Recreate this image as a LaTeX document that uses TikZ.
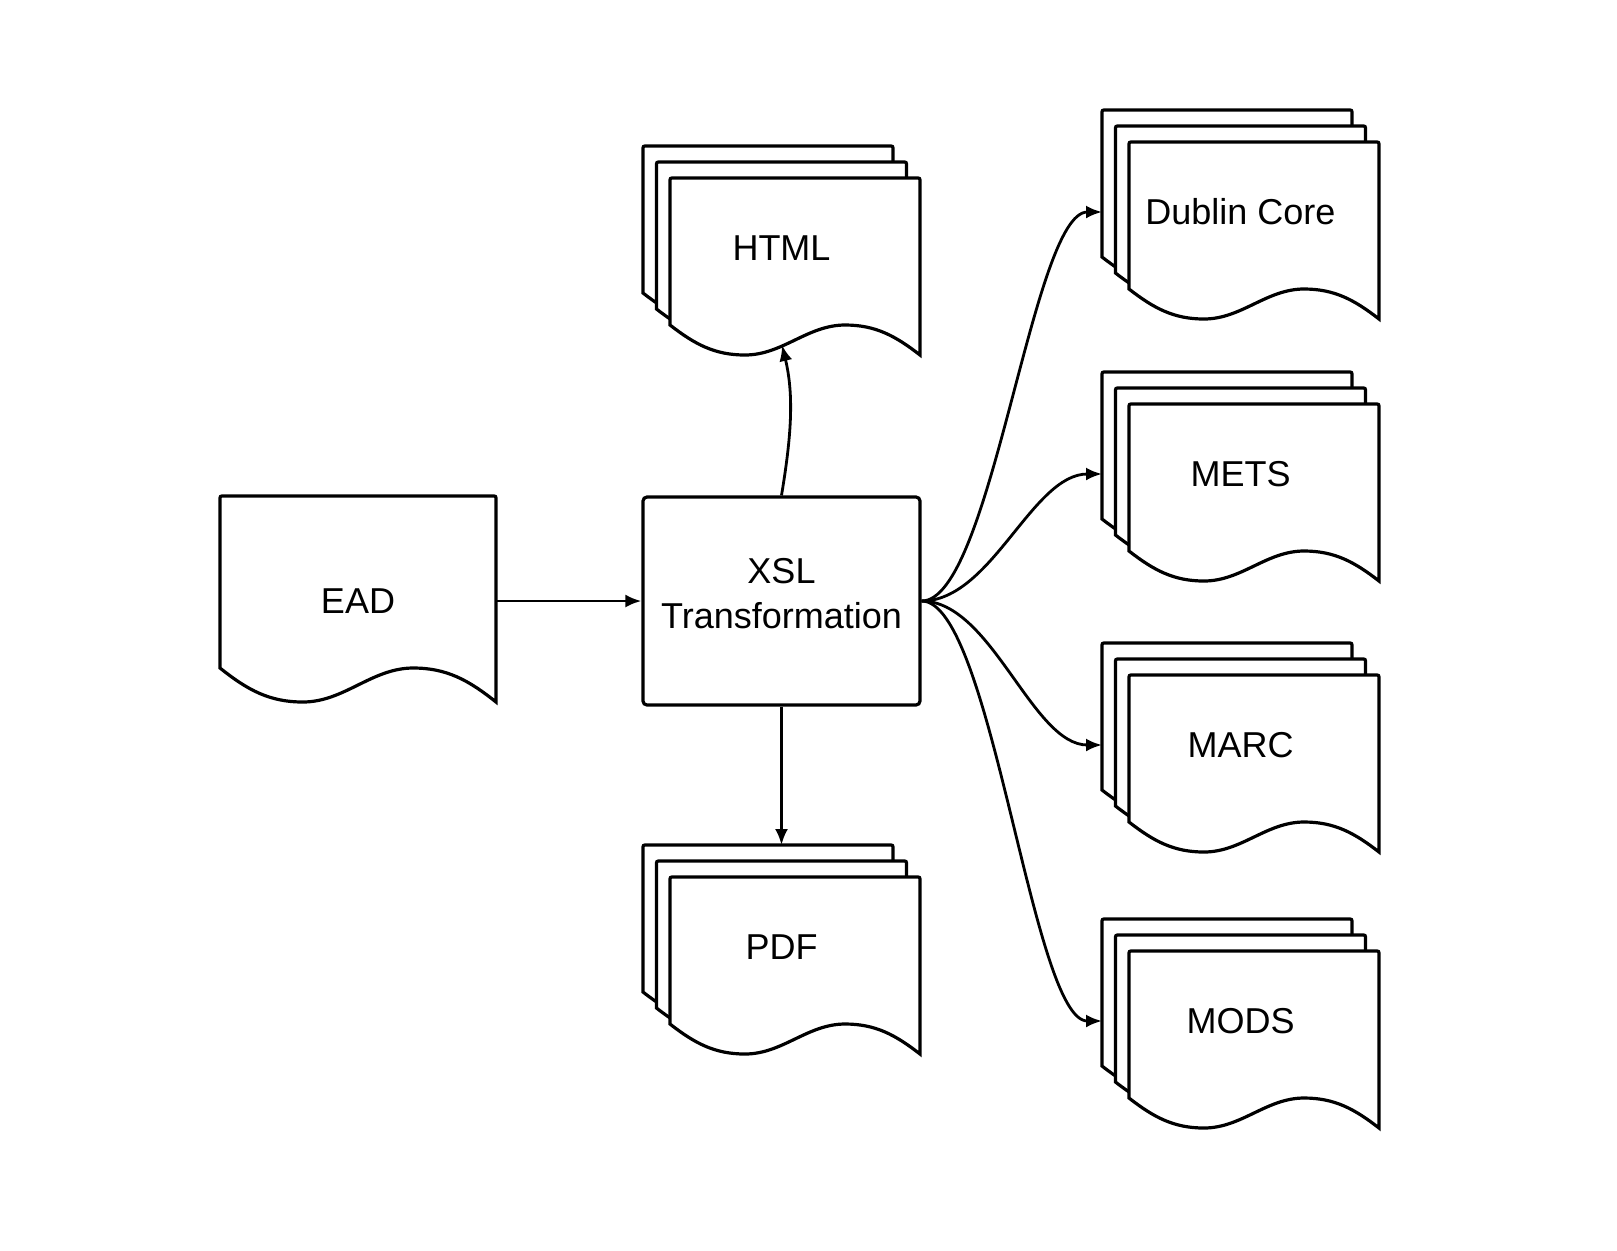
\documentclass[tikz,border=0pt]{standalone}
\usepackage{fontspec}
\setmainfont{Liberation Sans}
\usetikzlibrary{arrows.meta}

% one page: left, top, width, height of left side, depth of wave
\newcommand{\docsheet}[5]{%
  \draw[sheet] (#1,#2+#4) -- (#1,#2+4) .. controls (#1,#2) .. (#1+4,#2)
    -- (#1+#3-4,#2) .. controls (#1+#3,#2) .. (#1+#3,#2+4)
    -- (#1+#3,#2+#4+#5)
    .. controls (#1+0.9*#3,#2+#4+0.35*#5) and (#1+0.82*#3,#2+#4) .. (#1+0.7*#3,#2+#4)
    .. controls (#1+0.55*#3,#2+#4) and (#1+0.45*#3,#2+#4+#5) .. (#1+0.3*#3,#2+#4+#5)
    .. controls (#1+0.18*#3,#2+#4+#5) and (#1+0.1*#3,#2+#4+0.65*#5) .. (#1,#2+#4) -- cycle;}

% three pages on top of each other, label node #1
\newcommand{\docstack}[4]{%
  \docsheet{#2}{#3}{250}{147}{30}
  \docsheet{#2+13.5}{#3+16}{250}{147}{30}
  \docsheet{#2+27}{#3+32}{250}{147}{30}
  \node[doctext] (#1) at (#2+138.5,#3+102) {#4};
  \coordinate (#1-top) at (#2+138.5,#3);
  \coordinate (#1-in) at (#2+139,#3+199);}

\begin{document}
\begin{tikzpicture}[x=0.5pt, y=-0.5pt,
    sheet/.style={line width=1.6pt, fill=white},
    arr/.style={line width=1.4pt, -{Latex[length=8pt,width=6.5pt]}},
    doctext/.style={font=\fontsize{18}{21}\selectfont, minimum width=138.5pt, inner sep=0pt, outer sep=0pt}]
        \fill[white] (0,0) rectangle (1617,1250);
        \useasboundingbox (0,0) rectangle (1617,1250);

        % input
        \docsheet{220}{496}{276}{172}{34}
        \node[doctext, minimum width=138pt] (ead) at (358,601) {EAD};

        \node[draw, line width=1.6pt, rounded corners=2pt, minimum width=138.5pt, minimum height=104pt,
              align=center, font=\fontsize{18}{22.5}\selectfont] (xsl) at (781.5,601)
              {XSL\\Transformation\rule[-8pt]{0pt}{8pt}};

        % outputs
        \docstack{html}{643}{146}{HTML}
        \docstack{pdf}{643}{845}{PDF}
        \docstack{dc}{1102}{110}{Dublin Core}
        \docstack{mets}{1102}{372}{METS}
        \docstack{marc}{1102}{643}{MARC}
        \docstack{mods}{1102}{919}{MODS}

        \draw[arr] (ead.east) -- (xsl.west);
        \draw[arr] (xsl.north) .. controls +(10,-60) and +(12,50) .. (html-in);
        \draw[arr] (xsl.south) -- (pdf-top);
        \draw[arr] (xsl.east) .. controls +(70,0) and +(-70,0) .. (dc.west);
        \draw[arr] (xsl.east) .. controls +(70,0) and +(-70,0) .. (mets.west);
        \draw[arr] (xsl.east) .. controls +(70,0) and +(-70,0) .. (marc.west);
        \draw[arr] (xsl.east) .. controls +(70,0) and +(-70,0) .. (mods.west);
\end{tikzpicture}
\end{document}
